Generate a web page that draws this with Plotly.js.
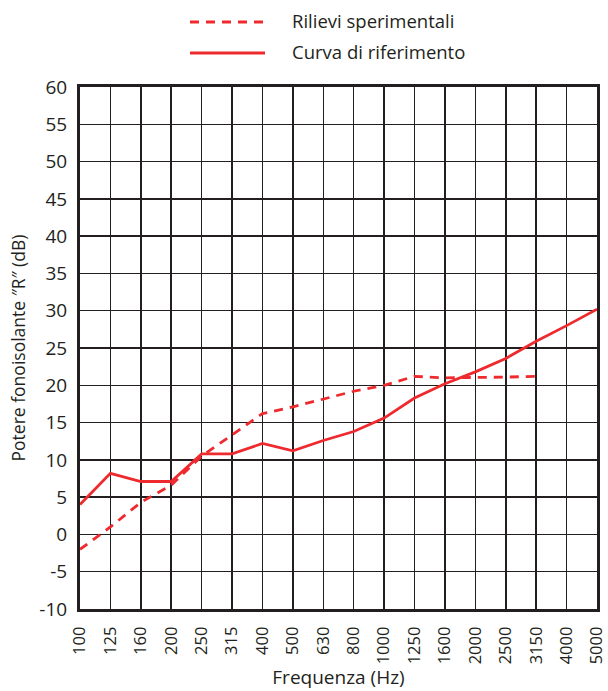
<!DOCTYPE html>
<html>
<head>
<meta charset="utf-8">
<script src="https://cdn.plot.ly/plotly-3.0.1.min.js"></script>
<style>html,body{margin:0;padding:0;background:#fff;}#chart{width:608px;height:691px;}</style>
</head>
<body>
<div id="chart"></div>
<script>
const frequencies = ["100","125","160","200","250","315","400","500","630","800","1000","1250","1600","2000","2500","3150","4000","5000"];
const rilievi = [-2, 1, 4.3, 6.6, 10.5, 13.4, 16.2, 17.1, 18.2, 19.2, 20, 21.2, 21, 21.1, 21.1, 21.2, null, null];
const riferimento = [4, 8.2, 7.1, 7.1, 10.8, 10.8, 12.2, 11.2, 12.6, 13.8, 15.6, 18.3, 20.2, 21.8, 23.6, 25.9, 28, 30.2];
const seriesNames = ["Rilievi sperimentali", "Curva di riferimento"];
const yTicks = [-10,-5,0,5,10,15,20,25,30,35,40,45,50,55,60];

const red = "#ee2a2e";
const ink = "#231f20";
const fontFam = "Open Sans, sans-serif";

const L = 80, R = 11, T = 87, B = 82, W = 608, H = 691;
const pw = W - L - R, ph = H - T - B;

const traces = [
  {x: frequencies, y: rilievi, name: seriesNames[0], type: "scatter", mode: "lines",
   line: {color: red, width: 2.8, dash: "9px,7px"}, connectgaps: false, showlegend: false},
  {x: frequencies, y: riferimento, name: seriesNames[1], type: "scatter", mode: "lines",
   line: {color: red, width: 2.8}, showlegend: false}
];

const layout = {
  width: W, height: H,
  margin: {l: L, r: R, t: T, b: B},
  paper_bgcolor: "#fff", plot_bgcolor: "#fff",
  font: {family: fontFam, color: ink, size: 17},
  xaxis: {
    type: "category", range: [0, 17], tickangle: -90,
    showgrid: true, gridcolor: ink, gridwidth: 1.5,
    showline: true, linecolor: ink, linewidth: 3, mirror: true,
    ticks: "", ticklabelstandoff: 8,
    tickfont: {size: 16.5, family: fontFam, color: ink},
    title: {text: "Frequenza (Hz)", font: {size: 19, family: fontFam, color: ink}, standoff: 8},
    zeroline: false, fixedrange: true
  },
  yaxis: {
    range: [-10, 60], tickvals: yTicks, ticktext: yTicks.map(String),
    showgrid: true, gridcolor: ink, gridwidth: 1.5,
    showline: true, linecolor: ink, linewidth: 3, mirror: true,
    ticks: "", ticklabelstandoff: 6,
    tickfont: {size: 19, family: fontFam, color: ink},
    title: {text: "Potere fonoisolante ″R″ (dB)", font: {size: 17.5, family: fontFam, color: ink}, standoff: 10},
    zeroline: false, fixedrange: true
  },
  showlegend: false,
  shapes: [
    {type: "line", xref: "paper", yref: "paper", x0: (190-L)/pw, x1: (265-L)/pw,
     y0: (H-B-22)/ph, y1: (H-B-22)/ph, line: {color: red, width: 2.8, dash: "9px,7px"}},
    {type: "line", xref: "paper", yref: "paper", x0: (190-L)/pw, x1: (265-L)/pw,
     y0: (H-B-53)/ph, y1: (H-B-53)/ph, line: {color: red, width: 2.8}}
  ],
  annotations: [
    {xref: "paper", yref: "paper", x: (290-L)/pw, y: (H-B-20)/ph, xanchor: "left", yanchor: "middle",
     text: seriesNames[0], showarrow: false, font: {size: 18.5, family: fontFam, color: ink}},
    {xref: "paper", yref: "paper", x: (290-L)/pw, y: (H-B-51)/ph, xanchor: "left", yanchor: "middle",
     text: seriesNames[1], showarrow: false, font: {size: 18.5, family: fontFam, color: ink}}
  ]
};

Plotly.newPlot("chart", traces, layout, {displayModeBar: false, staticPlot: true});
</script>
</body>
</html>
